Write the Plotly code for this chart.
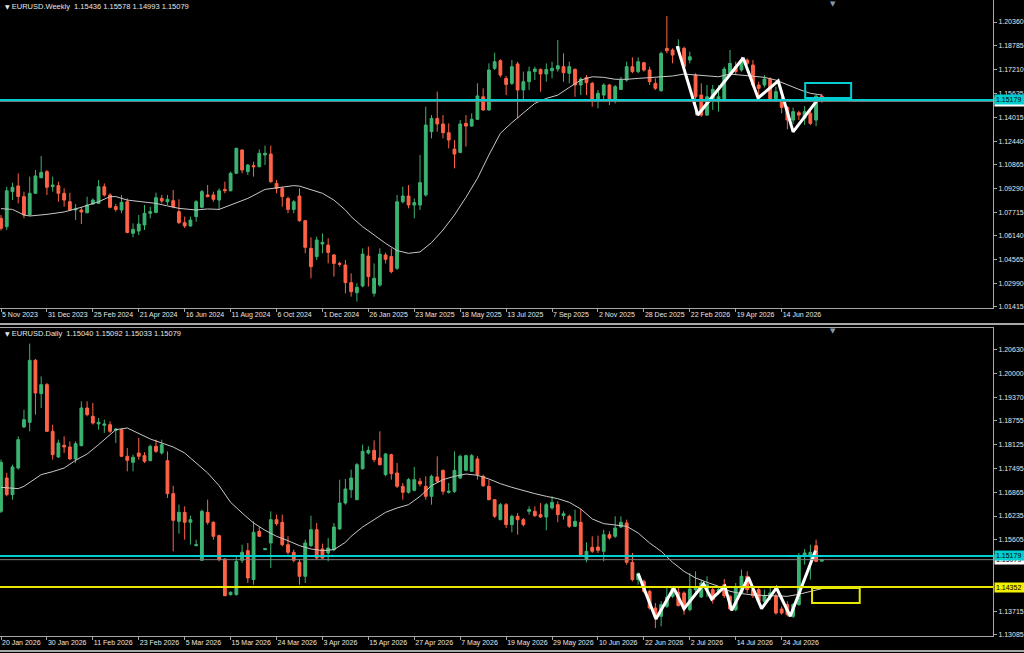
import plotly.graph_objects as go

# ---------------- Weekly EURUSD (top pane) ----------------
W_OPEN = [1.0731, 1.0675, 1.0908, 1.0946, 1.0875, 1.0753, 1.0897, 1.1001, 1.1041, 1.0941,
          1.0948, 1.0897, 1.0841, 1.0786, 1.0786, 1.0768, 1.0826, 1.0830, 1.0941, 1.0886,
          1.0808, 1.0786, 1.0841, 1.0631, 1.0646, 1.0686, 1.0764, 1.0770, 1.0863, 1.0841,
          1.0848, 1.0775, 1.0702, 1.0680, 1.0742, 1.0804, 1.0886, 1.0886, 1.0852, 1.0923,
          1.0914, 1.1030, 1.1185, 1.1041, 1.1081, 1.1074, 1.1152, 1.1158, 1.0963, 1.0930,
          1.0863, 1.0790, 1.0879, 1.0715, 1.0531, 1.0476, 1.0560, 1.0553, 1.0487, 1.0431,
          1.0420, 1.0303, 1.0236, 1.0281, 1.0480, 1.0232, 1.0287, 1.0487, 1.0476, 1.0398,
          1.0841, 1.0879, 1.0819, 1.0819, 1.0886, 1.1307, 1.1395, 1.1358, 1.1300, 1.1191,
          1.1169, 1.1362, 1.1344, 1.1389, 1.1539, 1.1451, 1.1728, 1.1779, 1.1661, 1.1628,
          1.1757, 1.1584, 1.1639, 1.1706, 1.1721, 1.1690, 1.1712, 1.1723, 1.1739, 1.1695,
          1.1721, 1.1617, 1.1668, 1.1628, 1.1522, 1.1550, 1.1617, 1.1517, 1.1588, 1.1650,
          1.1739, 1.1706, 1.1765, 1.1717, 1.1628, 1.1579, 1.1861, 1.1850, 1.1850, 1.1861,
          1.1783, 1.1683, 1.1550, 1.1417, 1.1517, 1.1506, 1.1517, 1.1695, 1.1739, 1.1717,
          1.1783, 1.1750, 1.1617, 1.1617, 1.1657, 1.1513, 1.1522, 1.1468, 1.1384, 1.1433,
          1.1395, 1.1429, 1.1384, 1.15436]
W_HIGH = [1.0753, 1.0941, 1.0968, 1.1030, 1.0908, 1.1008, 1.1052, 1.1145, 1.1052, 1.1008,
          1.0974, 1.0930, 1.0901, 1.0826, 1.0808, 1.0875, 1.0863, 1.0985, 1.0963, 1.0897,
          1.0826, 1.0886, 1.0863, 1.0697, 1.0753, 1.0819, 1.0808, 1.0901, 1.0886, 1.0886,
          1.0919, 1.0857, 1.0742, 1.0742, 1.0852, 1.0919, 1.0952, 1.0908, 1.0930, 1.0974,
          1.1041, 1.1200, 1.1189, 1.1092, 1.1107, 1.1189, 1.1214, 1.1214, 1.0985, 1.0941,
          1.0875, 1.0852, 1.0930, 1.0719, 1.0604, 1.0609, 1.0631, 1.0598, 1.0493, 1.0442,
          1.0453, 1.0365, 1.0299, 1.0531, 1.0542, 1.0431, 1.0531, 1.0502, 1.0531, 1.0886,
          1.0941, 1.0952, 1.0863, 1.1152, 1.1473, 1.1417, 1.1573, 1.1417, 1.1362, 1.1251,
          1.1384, 1.1417, 1.1429, 1.1628, 1.1595, 1.1761, 1.1832, 1.1788, 1.1677, 1.1783,
          1.1772, 1.1706, 1.1739, 1.1739, 1.1728, 1.1761, 1.1772, 1.1916, 1.1827, 1.1772,
          1.1728, 1.1668, 1.1683, 1.1639, 1.1584, 1.1628, 1.1624, 1.1617, 1.1672, 1.1772,
          1.1801, 1.1801, 1.1772, 1.1739, 1.1661, 1.1839, 1.2076, 1.1861, 1.1921, 1.1872,
          1.1839, 1.1695, 1.1628, 1.1617, 1.1617, 1.1617, 1.1739, 1.1850, 1.1772, 1.1805,
          1.1794, 1.1783, 1.1639, 1.1683, 1.1668, 1.1606, 1.1539, 1.1477, 1.1468, 1.1446,
          1.1477, 1.1455, 1.1554, 1.15578]
W_LOW = [1.0649, 1.0653, 1.0852, 1.0830, 1.0731, 1.0746, 1.0892, 1.0996, 1.0886, 1.0908,
         1.0841, 1.0808, 1.0781, 1.0719, 1.0693, 1.0764, 1.0821, 1.0826, 1.0875, 1.0797,
         1.0775, 1.0764, 1.0631, 1.0604, 1.0620, 1.0653, 1.0731, 1.0764, 1.0830, 1.0819,
         1.0797, 1.0693, 1.0666, 1.0675, 1.0708, 1.0797, 1.0870, 1.0841, 1.0786, 1.0897,
         1.0910, 1.1025, 1.1030, 1.1019, 1.1008, 1.1070, 1.1085, 1.0968, 1.0897, 1.0808,
         1.0764, 1.0764, 1.0708, 1.0498, 1.0332, 1.0453, 1.0498, 1.0431, 1.0343, 1.0409,
         1.0232, 1.0210, 1.0177, 1.0272, 1.0276, 1.0210, 1.0276, 1.0431, 1.0365, 1.0387,
         1.0830, 1.0797, 1.0731, 1.0786, 1.0875, 1.1262, 1.1307, 1.1262, 1.1196, 1.1063,
         1.1163, 1.1207, 1.1340, 1.1384, 1.1446, 1.1446, 1.1717, 1.1668, 1.1550, 1.1617,
         1.1395, 1.1517, 1.1584, 1.1650, 1.1573, 1.1639, 1.1661, 1.1706, 1.1639, 1.1628,
         1.1539, 1.1550, 1.1550, 1.1473, 1.1462, 1.1517, 1.1484, 1.1495, 1.1584, 1.1639,
         1.1695, 1.1695, 1.1706, 1.1617, 1.1584, 1.1573, 1.1827, 1.1761, 1.1827, 1.1717,
         1.1761, 1.1417, 1.1406, 1.1411, 1.1451, 1.1440, 1.1506, 1.1683, 1.1683, 1.1706,
         1.1750, 1.1601, 1.1539, 1.1601, 1.1517, 1.1506, 1.1429, 1.1322, 1.1358, 1.1384,
         1.1351, 1.1351, 1.1344, 1.14993]
W_CLOSE = [1.0664, 1.0914, 1.0937, 1.0875, 1.0753, 1.0897, 1.1012, 1.1036, 1.0937, 1.0952,
           1.0897, 1.0852, 1.0786, 1.0793, 1.0773, 1.0819, 1.0852, 1.0941, 1.0886, 1.0804,
           1.0790, 1.0837, 1.0637, 1.0657, 1.0693, 1.0764, 1.0775, 1.0868, 1.0846, 1.0857,
           1.0808, 1.0702, 1.0680, 1.0719, 1.0841, 1.0908, 1.0875, 1.0857, 1.0914, 1.0914,
           1.1030, 1.1196, 1.1052, 1.1085, 1.1074, 1.1163, 1.1163, 1.0974, 1.0930, 1.0875,
           1.0790, 1.0841, 1.0715, 1.0538, 1.0409, 1.0587, 1.0571, 1.0504, 1.0431, 1.0425,
           1.0303, 1.0243, 1.0272, 1.0493, 1.0343, 1.0332, 1.0493, 1.0458, 1.0376, 1.0841,
           1.0879, 1.0819, 1.0835, 1.0968, 1.1351, 1.1395, 1.1358, 1.1300, 1.1251, 1.1158,
           1.1358, 1.1344, 1.1389, 1.1544, 1.1451, 1.1717, 1.1772, 1.1683, 1.1621, 1.1739,
           1.1584, 1.1639, 1.1706, 1.1723, 1.1690, 1.1721, 1.1728, 1.1745, 1.1699, 1.1739,
           1.1617, 1.1657, 1.1632, 1.1522, 1.1562, 1.1617, 1.1522, 1.1606, 1.1650, 1.1739,
           1.1706, 1.1772, 1.1717, 1.1639, 1.1595, 1.1827, 1.1845, 1.1816, 1.1872, 1.1739,
           1.1805, 1.1539, 1.1417, 1.1539, 1.1588, 1.1539, 1.1723, 1.1761, 1.1706, 1.1772,
           1.1761, 1.1617, 1.1595, 1.1657, 1.1522, 1.1573, 1.1468, 1.1384, 1.1440, 1.1417,
           1.1440, 1.1362, 1.1543, 1.15079]

# moving average sampled along the weekly pane (bar index, price)
W_MA_IDX = [0, 2, 4, 5, 8, 11, 14, 17, 19, 20, 22, 25, 27, 29, 31, 34, 36, 38, 40, 43,
            46, 48, 51, 52, 54, 56, 58, 60, 61, 63, 65, 67, 69, 71, 73, 75, 77, 79, 81, 83,
            85, 87, 89, 91, 93, 95, 97, 99, 101, 103, 105, 107, 109, 111, 113, 115, 117, 119,
            121, 123, 125, 127, 129, 131, 133, 135, 137, 139, 141, 143]
W_MA = [1.0795, 1.0790, 1.0753, 1.0746, 1.0757, 1.0773, 1.0804, 1.0841, 1.0875, 1.0875,
        1.0852, 1.0841, 1.0830, 1.0813, 1.0797, 1.0786, 1.0793, 1.0790, 1.0819, 1.0863,
        1.0923, 1.0934, 1.0948, 1.0945, 1.0919, 1.0897, 1.0852, 1.0786, 1.0742, 1.0675,
        1.0620, 1.0564, 1.0516, 1.0498, 1.0507, 1.0569, 1.0653, 1.0753, 1.0870, 1.0996,
        1.1152, 1.1296, 1.1367, 1.1429, 1.1495, 1.1528, 1.1550, 1.1601, 1.1650, 1.1672,
        1.1668, 1.1655, 1.1655, 1.1661, 1.1666, 1.1668, 1.1677, 1.1690, 1.1683, 1.1677,
        1.1672, 1.1690, 1.1683, 1.1677, 1.1668, 1.1650, 1.1617, 1.1588, 1.1562, 1.1550]

W_ZIG_IDX = [117.8, 121.4, 129.3, 131.9, 135.4, 138.0, 142.2]
W_ZIG = [1.1876, 1.1418, 1.1797, 1.1531, 1.1644, 1.1305, 1.1517]

W_TICK_TEXT = ["5 Nov 2023", "31 Dec 2023", "25 Feb 2024", "21 Apr 2024", "16 Jun 2024",
               "11 Aug 2024", "6 Oct 2024", "1 Dec 2024", "26 Jan 2025", "23 Mar 2025",
               "18 May 2025", "13 Jul 2025", "7 Sep 2025", "2 Nov 2025", "28 Dec 2025",
               "22 Feb 2026", "19 Apr 2026", "14 Jun 2026"]
W_PRICE_TICKS = [1.20360, 1.18785, 1.17210, 1.15635, 1.14015, 1.12440, 1.10865, 1.09290,
                 1.07715, 1.06140, 1.04565, 1.02990, 1.01415]
W_BOX = dict(x0=140.1, x1=148.1, y0=1.15307, y1=1.16304)

# ---------------- Daily EURUSD (bottom pane) ----------------
D_OPEN = [1.16359, 1.17241, 1.16800, 1.17506, 1.18592, 1.18715, 1.20357, 1.19474, 1.19712, 1.18477,
          1.17797, 1.18106, 1.18062, 1.17744, 1.18097, 1.19095, 1.18874, 1.18671, 1.18636, 1.18653,
          1.18503, 1.18521, 1.17815, 1.17656, 1.17903, 1.17833, 1.17700, 1.18080, 1.17903, 1.17700,
          1.16827, 1.16094, 1.16332, 1.16068, 1.15450, 1.15062, 1.16332, 1.16068, 1.15715, 1.15097,
          1.14153, 1.14153, 1.15062, 1.15318, 1.14550, 1.15829, 1.15344, 1.15520, 1.16138, 1.16068,
          1.15476, 1.15273, 1.15009, 1.14638, 1.15450, 1.15873, 1.15362, 1.15256, 1.15344, 1.15891,
          1.16579, 1.16932, 1.16668, 1.17488, 1.17903, 1.17974, 1.17771, 1.17330, 1.17859, 1.17374,
          1.17021, 1.16862, 1.16915, 1.17153, 1.17021, 1.16756, 1.17268, 1.17444, 1.16862, 1.16888,
          1.17241, 1.17444, 1.17418, 1.17744, 1.17285, 1.17021, 1.16668, 1.16138, 1.16535, 1.16006,
          1.16226, 1.16138, 1.16359, 1.16359, 1.16271, 1.16209, 1.16447, 1.16535, 1.16244, 1.16226,
          1.15962, 1.16068, 1.15079, 1.15406, 1.15415, 1.15300, 1.15741, 1.15697, 1.15944, 1.16050,
          1.15009, 1.14550, 1.14506, 1.14241, 1.13800, 1.13579, 1.13844, 1.14108, 1.14214, 1.14197,
          1.13755, 1.14285, 1.14091, 1.14285, 1.14285, 1.14241, 1.14417, 1.14108, 1.13755, 1.14197,
          1.14638, 1.14285, 1.14285, 1.13976, 1.14091, 1.14108, 1.13773, 1.13888, 1.13579, 1.13888,
          1.15167, 1.15167, 1.15450, 1.15040]
D_HIGH = [1.17727, 1.17374, 1.17594, 1.18344, 1.19050, 1.20798, 1.20392, 1.19933, 1.19756, 1.18653,
          1.18256, 1.18344, 1.18212, 1.18212, 1.19271, 1.19271, 1.19227, 1.18830, 1.18786, 1.18742,
          1.18560, 1.18539, 1.18036, 1.17859, 1.18300, 1.17921, 1.18124, 1.18256, 1.18256, 1.17947,
          1.17038, 1.16535, 1.16491, 1.16244, 1.15609, 1.16403, 1.16668, 1.16094, 1.15741, 1.15115,
          1.14241, 1.15167, 1.15476, 1.15520, 1.16094, 1.15944, 1.15388, 1.16359, 1.16271, 1.16271,
          1.15697, 1.15344, 1.15079, 1.15609, 1.16244, 1.16050, 1.15503, 1.15653, 1.16050, 1.17197,
          1.17215, 1.17462, 1.17638, 1.18124, 1.18080, 1.18239, 1.18477, 1.17903, 1.17886, 1.17638,
          1.17109, 1.17241, 1.17533, 1.17241, 1.17285, 1.17330, 1.17815, 1.17462, 1.17109, 1.17947,
          1.17859, 1.17859, 1.17877, 1.17815, 1.17330, 1.17197, 1.16685, 1.16579, 1.16579, 1.16271,
          1.16315, 1.16182, 1.16491, 1.16491, 1.16579, 1.16579, 1.16756, 1.16623, 1.16359, 1.16271,
          1.16403, 1.16421, 1.15538, 1.15697, 1.15715, 1.15873, 1.15829, 1.16226, 1.16226, 1.16138,
          1.15256, 1.14744, 1.14550, 1.14285, 1.13932, 1.13976, 1.14329, 1.14373, 1.14329, 1.14241,
          1.14726, 1.14770, 1.14550, 1.14638, 1.14329, 1.14373, 1.14567, 1.14153, 1.14461, 1.14815,
          1.14770, 1.14373, 1.14329, 1.14285, 1.14329, 1.14180, 1.13844, 1.13976, 1.13932, 1.15256,
          1.15362, 1.15476, 1.15609, 1.15092]
D_LOW = [1.16315, 1.16756, 1.16668, 1.17462, 1.18565, 1.18477, 1.18918, 1.19095, 1.18460, 1.17727,
         1.17771, 1.17903, 1.17727, 1.17638, 1.18080, 1.18874, 1.18653, 1.18521, 1.18433, 1.18433,
         1.18168, 1.17797, 1.17418, 1.17418, 1.17727, 1.17638, 1.17683, 1.17903, 1.17859, 1.16712,
         1.15300, 1.15768, 1.15609, 1.15476, 1.15432, 1.15050, 1.16006, 1.15609, 1.15035, 1.14108,
         1.14126, 1.14126, 1.14991, 1.14461, 1.14417, 1.15679, 1.15330, 1.14859, 1.15979, 1.15432,
         1.15212, 1.15009, 1.14417, 1.14461, 1.15415, 1.15079, 1.15097, 1.15035, 1.15300, 1.15873,
         1.16535, 1.16712, 1.16650, 1.17462, 1.17859, 1.17656, 1.17568, 1.17285, 1.17197, 1.16977,
         1.16668, 1.16827, 1.16888, 1.17021, 1.16668, 1.16535, 1.17109, 1.16800, 1.16827, 1.16844,
         1.17215, 1.17418, 1.17400, 1.17197, 1.17003, 1.16650, 1.16182, 1.16121, 1.15918, 1.15803,
         1.15741, 1.15962, 1.16271, 1.16209, 1.16182, 1.15856, 1.16403, 1.16068, 1.16138, 1.15918,
         1.15944, 1.15185, 1.15009, 1.15256, 1.15256, 1.15035, 1.15609, 1.15653, 1.15918, 1.14947,
         1.14506, 1.14417, 1.14197, 1.13755, 1.13270, 1.13314, 1.13800, 1.14064, 1.13844, 1.13623,
         1.13711, 1.14108, 1.14064, 1.14091, 1.13914, 1.14153, 1.14064, 1.13738, 1.13711, 1.14153,
         1.14197, 1.14064, 1.13950, 1.13932, 1.14003, 1.13623, 1.13623, 1.13579, 1.13535, 1.13861,
         1.14947, 1.14550, 1.15009, 1.15033]
D_CLOSE = [1.17656, 1.16800, 1.17533, 1.18256, 1.18786, 1.20357, 1.19492, 1.19712, 1.18477, 1.17859,
           1.18168, 1.18062, 1.17744, 1.18150, 1.19095, 1.18918, 1.18697, 1.18715, 1.18671, 1.18477,
           1.18539, 1.17815, 1.17709, 1.17789, 1.17815, 1.17683, 1.18080, 1.17947, 1.18124, 1.16827,
           1.16121, 1.16332, 1.16068, 1.16138, 1.15476, 1.16359, 1.16068, 1.15697, 1.15079, 1.14126,
           1.14214, 1.15035, 1.15273, 1.14594, 1.15803, 1.15697, 1.15370, 1.16138, 1.16032, 1.15476,
           1.15273, 1.15062, 1.14638, 1.15520, 1.15873, 1.15123, 1.15123, 1.15388, 1.15944, 1.16579,
           1.16950, 1.17241, 1.17594, 1.17947, 1.17974, 1.17727, 1.17594, 1.17877, 1.17356, 1.17021,
           1.16862, 1.17197, 1.17197, 1.17083, 1.16756, 1.17285, 1.17153, 1.16888, 1.16888, 1.17444,
           1.17815, 1.17833, 1.17833, 1.17330, 1.17038, 1.16668, 1.16226, 1.16535, 1.16006, 1.16226,
           1.16138, 1.16006, 1.16403, 1.16244, 1.16209, 1.16535, 1.16597, 1.16271, 1.16297, 1.15962,
           1.16094, 1.15212, 1.15300, 1.15300, 1.15326, 1.15741, 1.15653, 1.15918, 1.16068, 1.15009,
           1.14550, 1.14709, 1.14241, 1.13800, 1.13579, 1.13888, 1.14091, 1.14329, 1.13861, 1.13773,
           1.14303, 1.14329, 1.14461, 1.14417, 1.14020, 1.14285, 1.14126, 1.13773, 1.14329, 1.14638,
           1.14285, 1.14126, 1.13976, 1.14126, 1.14197, 1.13667, 1.13667, 1.13623, 1.13888, 1.15167,
           1.15256, 1.15273, 1.15035, 1.15079]

D_MA_IDX = [0, 2, 3, 4, 6, 7, 9, 11, 13, 15, 17, 19, 20, 22, 24, 26, 28, 30, 32, 34,
            36, 38, 40, 42, 44, 46, 48, 50, 52, 54, 56, 58, 60, 61, 63, 65, 67, 69, 71, 73,
            75, 77, 79, 81, 83, 85, 87, 89, 91, 93, 95, 97, 99, 101, 103, 105, 107, 109, 111, 113,
            115, 117, 119, 121, 123, 125, 127, 129, 131, 133, 135, 137, 139, 141, 143]
D_MA = [1.16994, 1.16959, 1.16959, 1.17021, 1.17215, 1.17330, 1.17409, 1.17506, 1.17709, 1.17877,
        1.18124, 1.18389, 1.18521, 1.18565, 1.18415, 1.18274, 1.18168, 1.18062, 1.17903, 1.17638,
        1.17374, 1.17038, 1.16597, 1.16315, 1.16050, 1.15856, 1.15697, 1.15582, 1.15450, 1.15362,
        1.15318, 1.15344, 1.15538, 1.15697, 1.15944, 1.16138, 1.16332, 1.16447, 1.16535, 1.16756,
        1.17038, 1.17197, 1.17285, 1.17347, 1.17312, 1.17215, 1.17091, 1.16994, 1.16906, 1.16827,
        1.16756, 1.16694, 1.16597, 1.16421, 1.16156, 1.16032, 1.15997, 1.15962, 1.15785, 1.15520,
        1.15300, 1.15009, 1.14770, 1.14594, 1.14479, 1.14373, 1.14241, 1.14180, 1.14144, 1.14126,
        1.14108, 1.14108, 1.14162, 1.14241, 1.14312]

D_ZIG_IDX = [111.0, 114.1, 117.2, 119.0, 122.4, 123.8, 126.1, 127.3, 130.2, 132.5, 135.1, 137.5, 141.9]
D_ZIG = [1.14709, 1.13508, 1.14329, 1.13782, 1.14435, 1.14038, 1.14373, 1.13738, 1.14611,
         1.13782, 1.14329, 1.13579, 1.15318]

D_TICK_TEXT = ["20 Jan 2026", "30 Jan 2026", "11 Feb 2026", "23 Feb 2026", "5 Mar 2026",
               "15 Mar 2026", "24 Mar 2026", "3 Apr 2026", "15 Apr 2026", "27 Apr 2026",
               "7 May 2026", "19 May 2026", "29 May 2026", "10 Jun 2026", "22 Jun 2026",
               "2 Jul 2026", "14 Jul 2026", "24 Jul 2026"]
# levels next to the price tags (1.14975, 1.14345) are covered by the tags
D_PRICE_TICKS = [1.20630, 1.20000, 1.19370, 1.18755, 1.18125, 1.17495, 1.16865, 1.16235,
                 1.15605, 1.13715, 1.13085]
D_BOX = dict(x0=141.3, x1=149.6, y0=1.13932, y1=1.14329)

RESISTANCE = 1.15179
SUPPORT = 1.14352
BID = 1.15079
W_TITLE = "EURUSD.Weekly  1.15436 1.15578 1.14993 1.15079"
D_TITLE = "EURUSD.Daily  1.15040 1.15092 1.15033 1.15079"

# ---------------- styling ----------------
GREEN = "#3cb371"
RED = "#ff6347"
CYAN = "#00ced1"
YELLOW = "#e8e800"
FRAME = "#a8a8a8"
TEXT = "#e6e6e6"
FONT = "Liberation Sans"
W_PX, H_PX = 1024, 653
X_END = 993 / W_PX
X_RANGE = [-0.174, 172.82]
TICK_STEP = 8


def candles(o, h, l, c, xa, ya):
    return go.Candlestick(
        x=list(range(len(o))), open=o, high=h, low=l, close=c,
        xaxis=xa, yaxis=ya, whiskerwidth=0,
        increasing=dict(line=dict(color=GREEN, width=1), fillcolor=GREEN),
        decreasing=dict(line=dict(color=RED, width=1), fillcolor=RED),
        showlegend=False, hoverinfo="skip")


fig = go.Figure()
fig.add_trace(candles(W_OPEN, W_HIGH, W_LOW, W_CLOSE, "x", "y"))
fig.add_trace(go.Scatter(x=W_MA_IDX, y=W_MA, mode="lines", line=dict(color="#c8c8c8", width=1),
                         xaxis="x", yaxis="y", showlegend=False, hoverinfo="skip"))
fig.add_trace(go.Scatter(x=W_ZIG_IDX, y=W_ZIG, mode="lines", line=dict(color="white", width=3),
                         xaxis="x", yaxis="y", showlegend=False, hoverinfo="skip"))

fig.add_trace(candles(D_OPEN, D_HIGH, D_LOW, D_CLOSE, "x2", "y2"))
fig.add_trace(go.Scatter(x=D_MA_IDX, y=D_MA, mode="lines", line=dict(color="#c8c8c8", width=1),
                         xaxis="x2", yaxis="y2", showlegend=False, hoverinfo="skip"))
fig.add_trace(go.Scatter(x=D_ZIG_IDX, y=D_ZIG, mode="lines", line=dict(color="white", width=3),
                         xaxis="x2", yaxis="y2", showlegend=False, hoverinfo="skip"))


def px_y(p):
    return 1 - p / H_PX


tick_font = dict(family=FONT, size=7, color=TEXT)
x_common = dict(showgrid=False, zeroline=False, showline=True, mirror=True, linecolor=FRAME,
                linewidth=1, ticks="outside", ticklen=3, tickcolor=FRAME, tickfont=tick_font,
                ticklabelposition="outside right", tickangle=0, automargin=False,
                range=X_RANGE, domain=[0, X_END],
                rangeslider=dict(visible=False), fixedrange=True)
y_common = dict(showgrid=False, zeroline=False, showline=True, linecolor=FRAME, linewidth=1,
                side="right", ticks="outside", ticklen=3, tickcolor=FRAME, tickfont=tick_font,
                automargin=False, fixedrange=True)

fig.update_layout(
    width=W_PX, height=H_PX,
    margin=dict(l=0, r=0, t=0, b=0, autoexpand=False),
    paper_bgcolor="black", plot_bgcolor="black",
    xaxis=dict(x_common, anchor="y",
               tickvals=list(range(0, TICK_STEP * len(W_TICK_TEXT), TICK_STEP)),
               ticktext=W_TICK_TEXT),
    yaxis=dict(y_common, anchor="x", domain=[px_y(308), px_y(0)],
               range=[1.01344, 1.21823], tickvals=W_PRICE_TICKS,
               ticktext=[f"{v:.5f}" for v in W_PRICE_TICKS]),
    xaxis2=dict(x_common, anchor="y2",
                tickvals=list(range(0, TICK_STEP * len(D_TICK_TEXT), TICK_STEP)),
                ticktext=D_TICK_TEXT),
    yaxis2=dict(y_common, anchor="x2", domain=[px_y(636), px_y(328)],
                range=[1.13058, 1.21212], tickvals=D_PRICE_TICKS,
                ticktext=[f"{v:.5f}" for v in D_PRICE_TICKS]),
)

shapes = []


def hline(level, yref, color, width):
    ax = "x" if yref == "y" else "x2"
    shapes.append(dict(type="line", xref=f"{ax} domain", yref=yref, x0=0, x1=1,
                       y0=level, y1=level, line=dict(color=color, width=width)))


hline(BID, "y", "#808080", 1)
hline(RESISTANCE, "y", CYAN, 2)
hline(BID, "y2", "#808080", 1)
hline(RESISTANCE, "y2", CYAN, 2)
hline(SUPPORT, "y2", YELLOW, 2)

shapes.append(dict(type="rect", xref="x", yref="y", line=dict(color=CYAN, width=2),
                   fillcolor="rgba(0,0,0,0)", **W_BOX))
shapes.append(dict(type="rect", xref="x2", yref="y2", line=dict(color=YELLOW, width=2),
                   fillcolor="rgba(0,0,0,0)", **D_BOX))

# window separators
for yy, w in [(324, 2), (651, 2)]:
    shapes.append(dict(type="line", xref="paper", yref="paper", x0=0, x1=1,
                       y0=px_y(yy), y1=px_y(yy), line=dict(color=FRAME, width=w)))
fig.update_layout(shapes=shapes)

ann = []


def price_tag(level, yref, bg):
    ann.append(dict(xref="paper", yref=yref, x=994 / W_PX, y=level, xanchor="left",
                    yanchor="middle", text=f"{level:.5f}", showarrow=False,
                    font=dict(family=FONT, size=7, color="black"), bgcolor=bg,
                    borderpad=1, width=27, height=7, align="left"))


price_tag(BID, "y", "white")
price_tag(RESISTANCE, "y", CYAN)
price_tag(BID, "y2", "white")
price_tag(RESISTANCE, "y2", CYAN)
price_tag(SUPPORT, "y2", "#f0f000")

for title, ypx in [(W_TITLE, 6), (D_TITLE, 333)]:
    ann.append(dict(xref="paper", yref="paper", x=3 / W_PX, y=px_y(ypx), xanchor="left",
                    yanchor="middle", showarrow=False,
                    text="<span style='font-family:DejaVu Sans;font-size:6px'>▼</span> "
                         + title.replace("  ", "&nbsp;&nbsp;"),
                    font=dict(family=FONT, size=7.5, color=TEXT)))

# chart-shift markers
for ypx in [4, 331]:
    ann.append(dict(xref="paper", yref="paper", x=833 / W_PX, y=px_y(ypx), xanchor="center",
                    yanchor="middle", showarrow=False, text="▼",
                    font=dict(family="DejaVu Sans", size=7, color="#8a9aaa")))

fig.update_layout(annotations=ann)

fig.write_html("out.html", config=dict(displayModeBar=False))
